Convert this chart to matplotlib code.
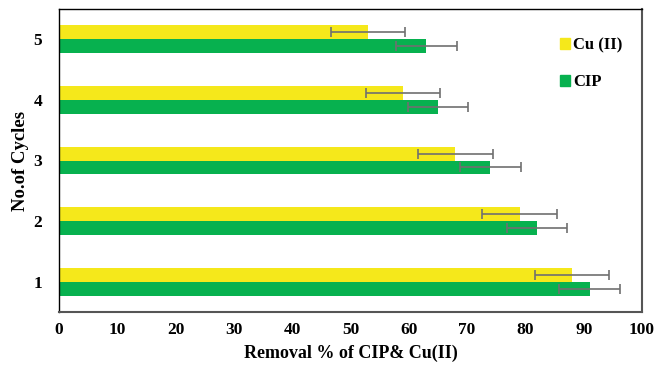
import numpy as np
import matplotlib.pyplot as plt
from matplotlib.patches import Patch

CYCLES = [1, 2, 3, 4, 5]
CU_REMOVAL = [88, 79, 68, 59, 53]
CU_ERR = [6.4, 6.4, 6.4, 6.4, 6.4]
CIP_REMOVAL = [91, 82, 74, 65, 63]
CIP_ERR = [5.2, 5.2, 5.2, 5.2, 5.2]

CU_COLOR = "#F5E81B"
CIP_COLOR = "#07B14F"
ERR_COLOR = "#707070"
BAR_H = 0.23

plt.rcParams["font.family"] = ["Liberation Serif", "DejaVu Serif"]
plt.rcParams["font.weight"] = "bold"

fig = plt.figure(figsize=(6.67, 3.67), dpi=100)
ax = fig.add_axes([59 / 667, 1 - 312 / 367, (642 - 59) / 667, (312 - 9) / 367])

y = np.array(CYCLES, dtype=float)
err_kw = dict(ecolor=ERR_COLOR, elinewidth=1.2, capsize=3.5, capthick=1.2)
ax.barh(y + BAR_H / 2, CU_REMOVAL, height=BAR_H, color=CU_COLOR,
        xerr=CU_ERR, error_kw=err_kw)
ax.barh(y - BAR_H / 2, CIP_REMOVAL, height=BAR_H, color=CIP_COLOR,
        xerr=CIP_ERR, error_kw=err_kw)

ax.set_xlim(0, 100)
ax.set_ylim(0.5, 5.5)
ax.set_xticks(np.arange(0, 101, 10))
ax.set_yticks(CYCLES)
ax.tick_params(axis="both", length=0, labelsize=12.5)
ax.tick_params(axis="x", pad=7)
ax.tick_params(axis="y", pad=12)
for lab in ax.get_xticklabels() + ax.get_yticklabels():
    lab.set_fontweight("bold")

ax.set_xlabel("Removal % of CIP& Cu(II)", fontsize=13, fontweight="bold", labelpad=5)
ax.set_ylabel("No.of Cycles", fontsize=13.5, fontweight="bold", labelpad=3)

for side in ["left", "top"]:
    ax.spines[side].set_color("black")
    ax.spines[side].set_linewidth(1.0)
for side in ["right", "bottom"]:
    ax.spines[side].set_color("#555555")
    ax.spines[side].set_linewidth(1.5)

handles = [Patch(color=CU_COLOR, label="Cu (II)"), Patch(color=CIP_COLOR, label="CIP")]
ax.legend(handles=handles, loc="upper right", bbox_to_anchor=(0.992, 0.955),
          frameon=False, prop={"size": 12, "weight": "bold"},
          handlelength=0.6, handleheight=0.6, handletextpad=0.2,
          labelspacing=1.25)

fig.savefig("out.png", dpi=100)
